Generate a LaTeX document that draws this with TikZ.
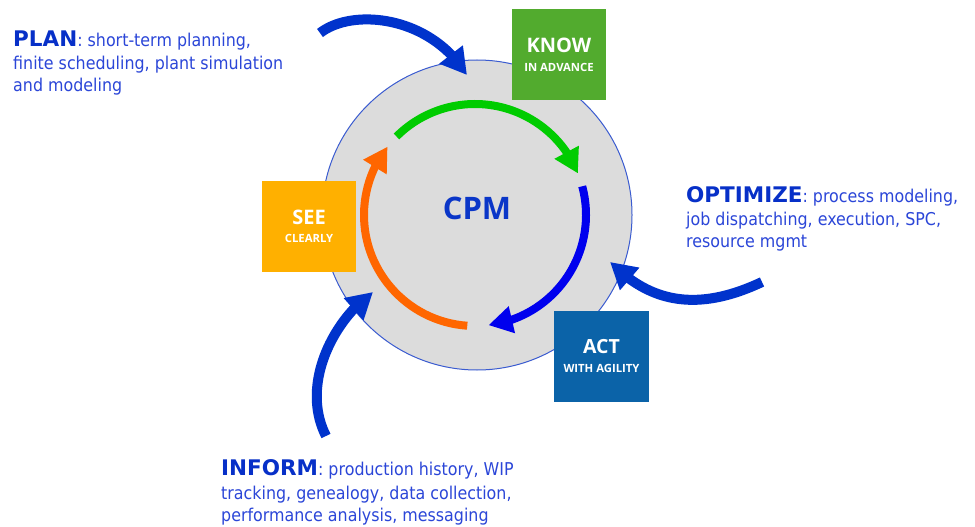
\documentclass[tikz,border=0pt]{standalone}
\usepackage{fontspec}
\setmainfont{DejaVu Sans}[FakeStretch=0.9]
\newfontfamily\headfont{DejaVu Sans}
\newfontfamily\boxfont{Open Sans}
\usetikzlibrary{arrows.meta,bending}
\definecolor{headblue}{HTML}{0730C8}
\definecolor{textblue}{HTML}{2B46D8}
\definecolor{arrowblue}{HTML}{0033CC}
\definecolor{cpmblue}{HTML}{0A36C8}
\definecolor{ringblue}{HTML}{0000EE}
\definecolor{ringgreen}{HTML}{00CC00}
\definecolor{ringorange}{HTML}{FF6600}
\definecolor{knowgreen}{HTML}{52AB2E}
\definecolor{seeyellow}{HTML}{FFB000}
\definecolor{actblue}{HTML}{0B63A8}
\definecolor{circlefill}{HTML}{DCDCDC}
\definecolor{circleline}{HTML}{3A5BD0}
\newcommand{\hd}[1]{{\headfont\bfseries\fontsize{21.5}{22}\selectfont\color{headblue}#1}}
\tikzset{
  body/.style={anchor=base west, inner sep=0pt, text=textblue, font=\fontsize{17.65}{22}\selectfont},
  ringarc/.style={line width=8pt, -{Triangle[width=26pt,length=24pt]}},
  outerarrow/.style={line width=10pt, arrowblue, -{Triangle[width=28pt,length=26pt]}},
  colorbox/.style={minimum width=94pt, minimum height=91pt, inner sep=0pt},
  boxbig/.style={anchor=base, inner sep=0pt, text=white, font=\boxfont\bfseries\fontsize{20}{20}\selectfont},
  boxsmall/.style={anchor=base, inner sep=0pt, text=white, font=\boxfont\bfseries\fontsize{11.3}{11}\selectfont}
}
\begin{document}
\begin{tikzpicture}[x=1pt,y=-1pt]
\useasboundingbox[fill=white] (0,0) rectangle (975,527);
% central disc
\node[circle, draw=circleline, line width=1pt, fill=circlefill, minimum size=310pt, inner sep=0pt] (ring) at (477,215) {};
\node[inner sep=0pt, text=cpmblue, font=\boxfont\bfseries\fontsize{31}{31}\selectfont] (cpm) at (477,208.5) {CPM};
% inner cycle
\coordinate (hub) at (475,215);
\draw[ringarc, ringgreen] (hub) ++(-135:111) arc[start angle=-135, end angle=-22, radius=111];
\draw[ringarc, ringblue] (hub) ++(-15:111) arc[start angle=-15, end angle=83, radius=111];
\draw[ringarc, ringorange] (hub) ++(94:111) arc[start angle=94, end angle=218, radius=111];
% outer arrows
\coordinate (planA) at (320,33);
\coordinate (planB) at (467,75);
\draw[outerarrow] (planA) .. controls (352,8) and (430,15) .. (planB);
\coordinate (optA) at (762,282);
\coordinate (optB) at (610,262);
\draw[outerarrow] (optA) .. controls (690,316) and (645,297) .. (optB);
\coordinate (infA) at (326,436);
\coordinate (infB) at (373,292);
\draw[outerarrow] (infA) .. controls (300,385) and (333,320) .. (infB);
% boxes
\node[colorbox, fill=knowgreen] (know) at (559,54.5) {};
\node[boxbig] (knowt) at (559,53) {KNOW};
\node[boxsmall] (knows) at (559,71) {IN ADVANCE};
\node[colorbox, fill=seeyellow] (see) at (309,226.5) {};
\node[boxbig] (seet) at (309,224) {SEE};
\node[boxsmall] (sees) at (309,242) {CLEARLY};
\node[colorbox, fill=actblue, minimum width=95pt] (act) at (601.5,356.5) {};
\node[boxbig, font=\boxfont\bfseries\fontsize{19.5}{20}\selectfont] (actt) at (601.5,353) {ACT};
\node[boxsmall] (acts) at (601.5,372) {WITH AGILITY};
% texts
\node[body] (plan1) at (13,47) {\hd{PLAN}: short-term planning,};
\node[body] (plan2) at (13,70) {finite scheduling, plant simulation};
\node[body] (plan3) at (13,92) {and modeling};
\node[body] (opt1) at (686,202) {\hd{OPTIMIZE}: process modeling,};
\node[body] (opt2) at (686,225) {job dispatching, execution, SPC,};
\node[body] (opt3) at (686,247) {resource mgmt};
\node[body] (inf1) at (221,475) {\hd{INFORM}: production history, WIP};
\node[body] (inf2) at (221,499) {tracking, genealogy, data collection,};
\node[body] (inf3) at (221,521) {performance analysis, messaging};
\end{tikzpicture}
\end{document}
